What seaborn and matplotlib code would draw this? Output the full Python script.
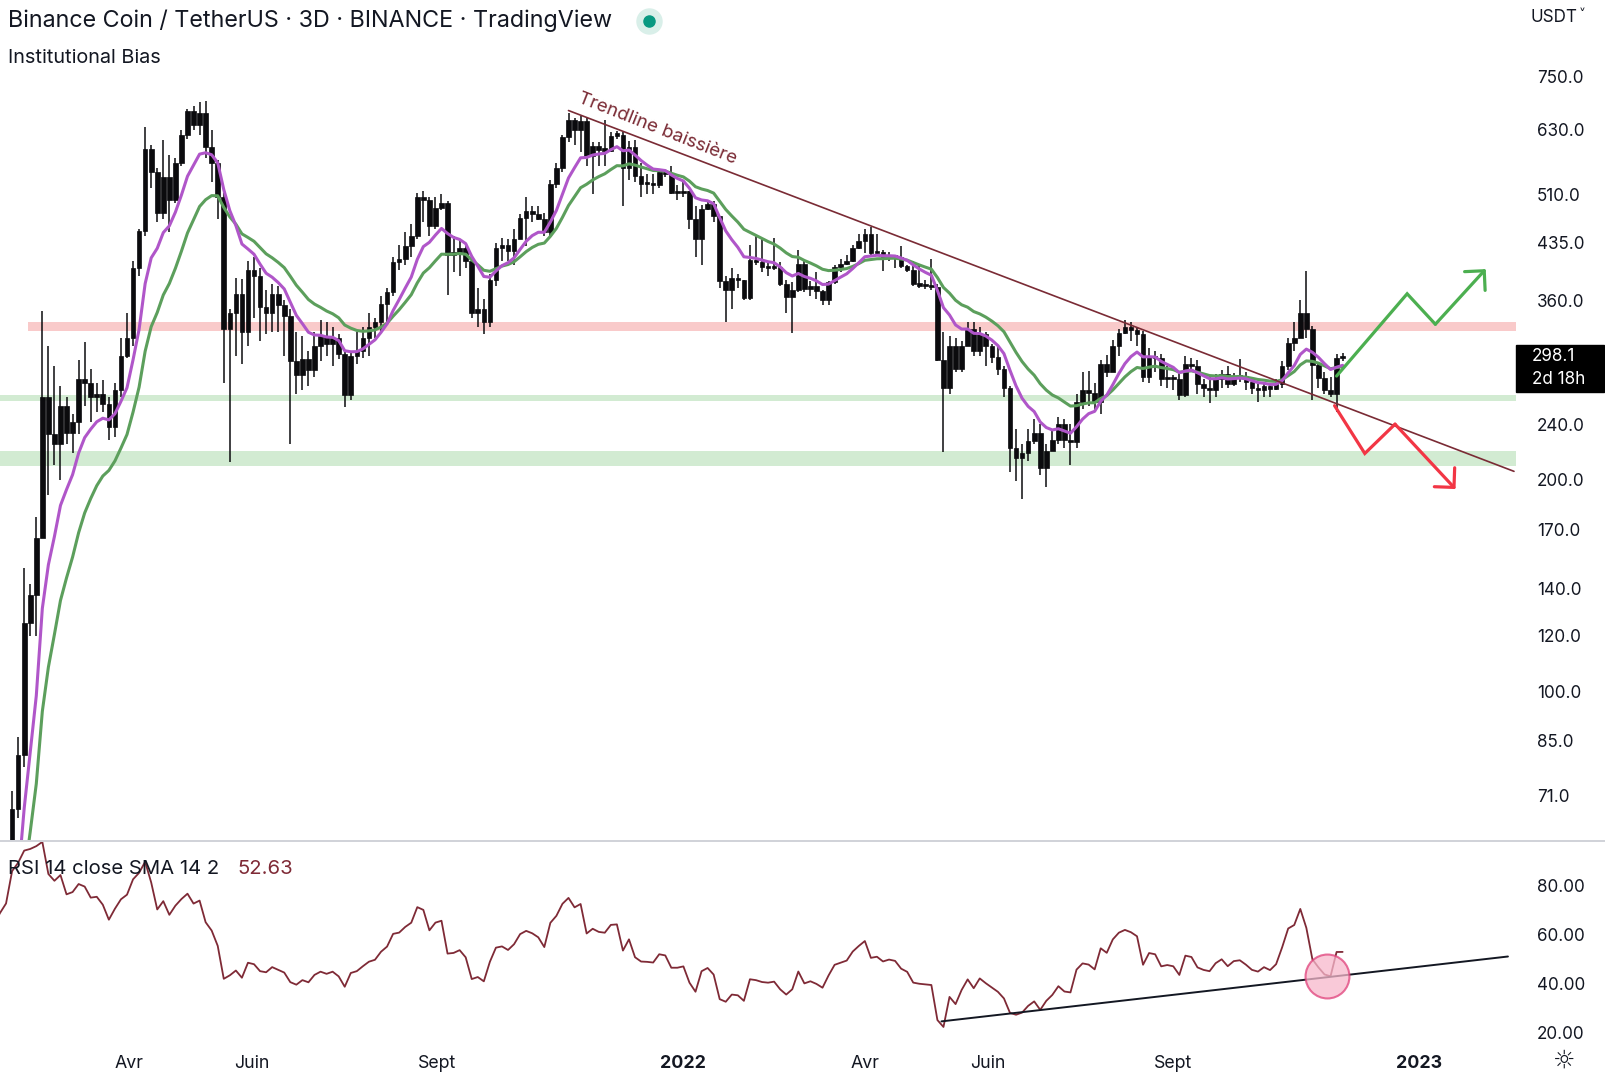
import numpy as np
import pandas as pd
import matplotlib
matplotlib.use("Agg")
import matplotlib.pyplot as plt
import matplotlib.dates as mdates
from matplotlib.patches import Rectangle
from matplotlib.lines import Line2D
from matplotlib.ticker import FixedLocator, NullLocator
import seaborn as sns

# ---- data (BNB/USDT, 3D candles) ----
first_date = "2021-02-02"

# closes before the visible window, only used to warm up the indicators
warmup_close = [29, 30, 30, 30, 28, 27, 29, 28, 28, 29,
                29, 32, 30, 31, 30, 30, 30, 29, 30, 31,
                31, 31, 33, 36, 37, 41, 42, 43, 40, 42,
                43, 39, 41, 44, 47]

close = [68, 81, 125, 137, 165, 262, 232, 225, 255, 233,
         242, 278, 275, 262, 265, 256, 238, 268, 300, 318,
         400, 452, 592, 548, 480, 540, 500, 565, 620, 670,
         640, 665, 595, 565, 505, 328, 345, 368, 325, 398,
         390, 352, 346, 368, 355, 342, 295, 282, 297, 287,
         310, 320, 312, 318, 302, 264, 300, 305, 318, 330,
         335, 356, 370, 408, 412, 430, 444, 505, 500, 460,
         488, 495, 418, 420, 428, 410, 345, 350, 336, 385,
         428, 432, 423, 440, 472, 483, 478, 470, 450, 527,
         556, 615, 650, 630, 648, 578, 598, 590, 588, 618,
         620, 556, 595, 542, 528, 527, 525, 548, 545, 512,
         512, 515, 470, 440, 486, 494, 475, 384, 372, 388,
         385, 363, 411, 408, 402, 400, 402, 380, 364, 373,
         406, 374, 378, 371, 361, 382, 402, 406, 410, 427,
         438, 448, 420, 422, 414, 417, 415, 403, 398, 380,
         378, 377, 376, 296, 270, 310, 288, 310, 328, 305,
         322, 310, 299, 288, 270, 222, 215, 218, 227, 233,
         208, 220, 228, 240, 228, 226, 258, 268, 266, 258,
         292, 285, 310, 324, 330, 327, 322, 280, 300, 298,
         278, 280, 278, 264, 292, 290, 274, 270, 268, 278,
         283, 274, 280, 281, 276, 270, 268, 272, 269, 274,
         290, 313, 318, 345, 328, 291, 279, 268, 265, 298,
         298.1]

high = [72, 86, 150, 142, 177, 348, 310, 290, 272, 262,
        248, 296, 314, 288, 275, 277, 262, 275, 318, 345,
        410, 455, 636, 600, 555, 610, 580, 575, 630, 675,
        680, 690, 692, 630, 570, 512, 350, 388, 386, 410,
        415, 400, 372, 380, 378, 360, 350, 325, 320, 305,
        325, 338, 335, 330, 322, 305, 305, 325, 330, 346,
        340, 365, 375, 415, 432, 450, 462, 512, 515, 505,
        505, 510, 498, 445, 440, 434, 415, 375, 362, 392,
        435, 442, 440, 455, 478, 505, 490, 490, 480, 535,
        565, 620, 666, 655, 660, 655, 605, 605, 650, 625,
        628, 625, 608, 610, 565, 545, 545, 552, 550, 560,
        525, 530, 515, 490, 493, 500, 498, 475, 390, 400,
        392, 385, 432, 444, 440, 410, 442, 408, 385, 383,
        425, 410, 384, 395, 372, 384, 404, 412, 418, 432,
        448, 455, 458, 448, 425, 422, 418, 430, 405, 410,
        405, 385, 412, 380, 325, 320, 318, 315, 335, 335,
        330, 325, 312, 309, 290, 272, 236, 225, 236, 244,
        240, 225, 236, 246, 244, 240, 265, 285, 286, 275,
        296, 301, 316, 328, 338, 335, 330, 326, 308, 305,
        302, 290, 282, 284, 300, 298, 296, 278, 282, 283,
        287, 290, 284, 297, 285, 280, 274, 276, 274, 278,
        295, 318, 336, 360, 396, 331, 292, 285, 280, 302,
        303]

low = [46, 66, 78, 120, 120, 165, 190, 210, 200, 225,
       218, 232, 255, 242, 250, 250, 228, 230, 262, 298,
       310, 390, 445, 520, 466, 470, 450, 495, 560, 612,
       630, 620, 575, 530, 470, 275, 212, 300, 292, 310,
       340, 315, 322, 325, 325, 300, 225, 265, 268, 272,
       280, 295, 300, 290, 297, 254, 260, 292, 298, 300,
       318, 325, 332, 365, 398, 405, 415, 440, 465, 445,
       455, 485, 366, 395, 390, 400, 340, 330, 322, 330,
       378, 410, 410, 405, 440, 430, 465, 468, 444, 445,
       520, 548, 605, 600, 585, 560, 510, 560, 560, 585,
       612, 491, 535, 530, 505, 510, 510, 520, 540, 510,
       500, 505, 455, 415, 405, 485, 465, 375, 336, 350,
       375, 360, 360, 405, 395, 390, 398, 378, 345, 324,
       370, 370, 365, 362, 355, 355, 380, 395, 405, 408,
       426, 420, 418, 418, 396, 410, 400, 400, 395, 378,
       375, 374, 372, 295, 219, 265, 285, 285, 310, 300,
       300, 290, 293, 282, 262, 205, 199, 188, 213, 225,
       203, 195, 220, 225, 222, 210, 222, 252, 255, 250,
       248, 280, 285, 300, 322, 315, 310, 276, 275, 285,
       272, 270, 268, 260, 262, 285, 265, 262, 257, 262,
       270, 270, 272, 276, 268, 265, 258, 262, 262, 268,
       270, 287, 305, 318, 318, 260, 270, 265, 262, 250,
       295]

price_ticks = [750, 630, 510, 435, 360, 240, 200, 170, 140, 120, 100, 85, 71]
rsi_ticks = [80, 60, 40, 20]
date_ticks = ["2021-04-01", "2021-06-01", "2021-09-01", "2022-01-01",
              "2022-04-01", "2022-06-01", "2022-09-01", "2023-01-01"]
date_labels = ["Avr", "Juin", "Sept", "2022", "Avr", "Juin", "Sept", "2023"]

# horizontal zones (low, high)
resistance_zone = (326, 335)
support_zones = [(259, 264), (209, 220)]

# drawings
trend_dates = ["2021-11-05", "2023-02-17"]
trend_prices = [671, 205.6]
bull_dates = ["2022-11-21", "2022-12-26", "2023-01-09", "2023-02-03"]
bull_prices = [281, 368, 333, 399]
bear_dates = ["2022-11-20", "2022-12-05", "2022-12-20", "2023-01-19"]
bear_prices = [255, 218, 240, 194]
rsi_trend_dates = ["2022-05-09", "2023-02-14"]
rsi_trend_values = [24.4, 51]
circle_date, circle_value = "2022-11-16", 43

# ---- setup ----
sns.set_theme(style="white")
plt.rcParams['font.family'] = ['Inter', 'DejaVu Sans']

W, H = 1606, 1080
fig = plt.figure(figsize=(W / 100, H / 100), dpi=100)
ax = fig.add_axes([0, 1 - 840 / H, 1516 / W, 840 / H])
ax2 = fig.add_axes([0, 1 - 1046.5 / H, 1516 / W, (1046.5 - 842) / H])

def dnum(d):
    return mdates.date2num(pd.to_datetime(d))

main_dates = pd.date_range(first_date, periods=len(close), freq="3D")
warm_dates = pd.date_range(end=main_dates[0] - pd.Timedelta(days=3),
                           periods=len(warmup_close), freq="3D")
all_dates = warm_dates.append(main_dates)
all_close = pd.Series(warmup_close + close, index=all_dates)
xall = mdates.date2num(all_dates.to_pydatetime())

opens = [warmup_close[-1]] + close[:-1]
df = pd.DataFrame({"x": mdates.date2num(main_dates.to_pydatetime()),
                   "open": opens, "high": high, "low": low, "close": close})

# indicators
ema_fast = all_close.ewm(span=9, adjust=False).mean()
ema_slow = all_close.ewm(span=18, adjust=False).mean()
delta = all_close.diff().fillna(0)
gain = delta.clip(lower=0).ewm(alpha=1 / 14, adjust=False).mean()
loss = (-delta.clip(upper=0)).ewm(alpha=1 / 14, adjust=False).mean()
rsi = 100 - 100 / (1 + gain / loss.replace(0, 1e-9))

# ---- price panel ----
ax.set_yscale("log")
lo, hi = resistance_zone
ax.axhspan(lo, hi, xmin=27 / 1480, xmax=1, color="#f9caca", lw=0, zorder=0)
for lo, hi in support_zones:
    ax.axhspan(lo, hi, color="#d2ebd2", lw=0, zorder=0)

ax.vlines(df["x"], df["low"], df["high"], color="#0b0b0e", lw=1.1, zorder=3)
bottom = np.minimum(df["open"], df["close"])
top = np.maximum(df["open"], df["close"])
height = np.maximum(top - bottom, top * 0.008)
ax.bar(df["x"], height, bottom=bottom, width=2.3, color="#0b0b0e",
       edgecolor="#0b0b0e", lw=0.5, zorder=3)

sns.lineplot(x=xall, y=ema_slow.values, ax=ax, color="#5c9f5c", lw=2.2, zorder=4)
sns.lineplot(x=xall, y=ema_fast.values, ax=ax, color="#b056c9", lw=2.2, zorder=4)

td = [dnum(d) for d in trend_dates]
ax.plot(td, trend_prices, color="#7a2b35", lw=1.2, zorder=5)
ax.text(dnum("2021-12-19"), 632, "Trendline baissière", color="#7a2b35",
        fontsize=13.5, rotation=-21.5, ha="center", va="center",
        rotation_mode="anchor", zorder=6)

for dates, prices, col in [(bull_dates, bull_prices, "#4caf50"),
                           (bear_dates, bear_prices, "#f23645")]:
    xs = [dnum(d) for d in dates]
    ax.plot(xs[:-1], prices[:-1], color=col, lw=2.3, zorder=6,
            solid_joinstyle="miter")
    ax.annotate("", xy=(xs[-1], prices[-1]), xytext=(xs[-2], prices[-2]),
                arrowprops=dict(arrowstyle="->,head_length=0.5,head_width=0.5",
                                color=col, lw=2.3, mutation_scale=20,
                                shrinkA=0, shrinkB=0), zorder=6)

xmin, xmax = dnum("2021-01-27"), dnum("2023-02-18")
ax.set_xlim(xmin, xmax)
ax.set_ylim(61.4, 964)
ax.yaxis.tick_right()
ax.yaxis.set_major_locator(FixedLocator(price_ticks))
ax.yaxis.set_minor_locator(NullLocator())
ax.set_yticklabels([f"{v:.1f}" for v in price_ticks])
ax.tick_params(axis="y", length=0, pad=15, labelsize=12.3, labelcolor="#131722")
ax.set_xticks([])
ax.set_xlabel("")
ax.set_ylabel("")
for s in ax.spines.values():
    s.set_visible(False)

# ---- RSI panel ----
sns.lineplot(x=xall, y=rsi.values, ax=ax2, color="#7f2a36", lw=1.3)
rd = [dnum(d) for d in rsi_trend_dates]
ax2.plot(rd, rsi_trend_values, color="#131722", lw=1.4)
ax2.scatter([dnum(circle_date)], [circle_value], s=1000, color="#f7b8cc",
            alpha=0.75, edgecolor="#e0407a", linewidth=1.5, zorder=5)
ax2.set_xlim(xmin, xmax)
ax2.set_ylim(14.1, 97.95)
ax2.yaxis.tick_right()
ax2.set_yticks(rsi_ticks)
ax2.set_yticklabels([f"{v:.2f}" for v in rsi_ticks])
ax2.tick_params(axis="y", length=0, pad=15, labelsize=12.3, labelcolor="#131722")
ax2.set_xticks([dnum(d) for d in date_ticks])
ax2.set_xticklabels(date_labels)
ax2.tick_params(axis="x", length=0, pad=6, labelsize=12.8, labelcolor="#131722")
for lab in ax2.get_xticklabels():
    if lab.get_text().isdigit():
        lab.set_fontweight("bold")
ax2.set_xlabel("")
ax2.set_ylabel("")
for s in ax2.spines.values():
    s.set_visible(False)

# ---- figure decorations ----
def fx(px):
    return px / W

def fy(py):
    return 1 - py / H

fig.add_artist(Line2D([0, 1], [fy(841), fy(841)], color="#c8cbd2", lw=1.2,
                      transform=fig.transFigure))
fig.text(fx(8), fy(21), "Binance Coin / TetherUS · 3D · BINANCE · TradingView",
         fontsize=16.8, color="#131722", va="center", ha="left")
ax.plot([fx(649)], [fy(20.5)], "o", ms=18, color="#d9efe9",
        transform=fig.transFigure, clip_on=False)
ax.plot([fx(649)], [fy(20.5)], "o", ms=8, color="#089981",
        transform=fig.transFigure, clip_on=False)
fig.text(fx(8), fy(58), "Institutional Bias", fontsize=14.3, color="#131722",
         va="center", ha="left")
fig.text(fx(1531), fy(17), "USDT", fontsize=12.3, color="#131722",
         va="center", ha="left")
fig.text(fx(1579), fy(15), "˅", fontsize=10, color="#131722",
         va="center", ha="left", family=["DejaVu Sans"])

fig.add_artist(Rectangle((fx(1516), fy(392)), 88 / W, 47 / H, color="black",
                         transform=fig.transFigure))
fig.text(fx(1532), fy(357), "298.1", fontsize=12.3, color="white", va="center")
fig.text(fx(1532), fy(380), "2d 18h", fontsize=12.3, color="white", va="center")

fig.text(fx(8), fy(869), "RSI 14 close SMA 14 2", fontsize=14.6, color="#131722",
         va="center", ha="left")
fig.text(fx(237), fy(869), "52.63", fontsize=14.6, color="#7f2a36",
         va="center", ha="left")
fig.text(fx(1564), fy(1061), "☼", fontsize=18, color="#131722",
         va="center", ha="center", family=["DejaVu Sans"])

fig.savefig("out.png", dpi=100, facecolor="white")
